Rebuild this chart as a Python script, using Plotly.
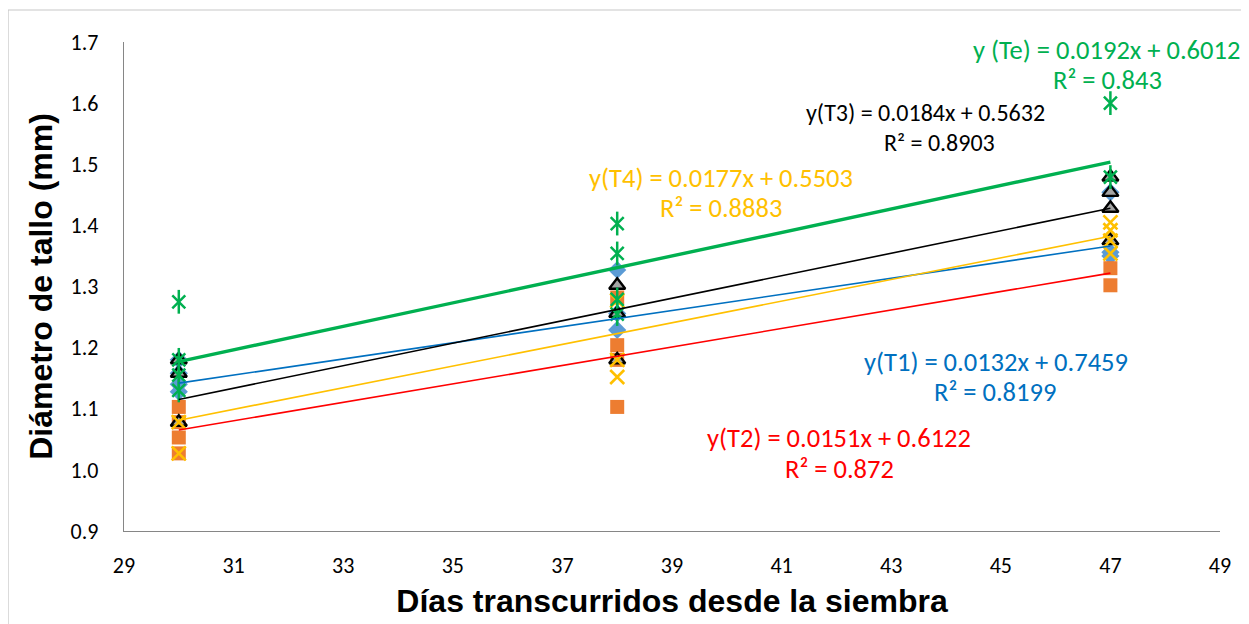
import plotly.graph_objects as go

# ---- data ----
t1_x = [30, 30, 30, 30, 38, 38, 38, 47, 47, 47]
t1_y = [1.180, 1.158, 1.140, 1.128, 1.327, 1.256, 1.229, 1.454, 1.356, 1.350]

t2_x = [30, 30, 30, 30, 38, 38, 38, 38, 47, 47]
t2_y = [1.103, 1.078, 1.053, 1.027, 1.282, 1.204, 1.180, 1.103, 1.330, 1.302]

t3_x = [30, 30, 30, 38, 38, 38, 47, 47, 47, 47]
t3_y = [1.180, 1.158, 1.078, 1.302, 1.256, 1.180, 1.479, 1.454, 1.428, 1.375]

t4_x = [30, 30, 38, 38, 38, 47, 47, 47, 47]
t4_y = [1.078, 1.027, 1.277, 1.180, 1.152, 1.405, 1.392, 1.375, 1.354]

te_x = [30, 30, 30, 30, 38, 38, 38, 38, 47, 47]
te_y = [1.275, 1.180, 1.155, 1.130, 1.403, 1.354, 1.279, 1.255, 1.600, 1.479]

# trendline coefficients (as printed on the chart)
names = ["T1", "T2", "T3", "T4", "Te"]
slopes = [0.0132, 0.0151, 0.0184, 0.0177, 0.0192]
intercepts = [0.7459, 0.6122, 0.5632, 0.5503, 0.6012]
r2 = ["0.8199", "0.872", "0.8903", "0.8883", "0.843"]
x_span = [30, 47]

x_ticks = list(range(29, 50, 2))
y_ticks = [0.9, 1.0, 1.1, 1.2, 1.3, 1.4, 1.5, 1.6, 1.7]
y_tick_text = ["0.9", "1.0", "1.1", "1.2", "1.3", "1.4", "1.5", "1.6", "1.7"]

# ---- styles ----
line_col = {"T1": "#0070C0", "T2": "#FF0000", "T3": "#000000", "T4": "#FFC000", "Te": "#00B050"}
line_w = {"T1": 1.6, "T2": 1.6, "T3": 1.6, "T4": 1.6, "Te": 3.4}
lab_size = {"T1": 26.5, "T2": 26.5, "T3": 24, "T4": 26.5, "Te": 26.5}

fig = go.Figure()

# markers (drawn in series order so later series sit on top)
fig.add_trace(go.Scatter(x=t1_x, y=t1_y, mode="markers", name="T1",
    marker=dict(symbol="diamond", size=14, color="#5B9BD5", line=dict(width=0))))
fig.add_trace(go.Scatter(x=t2_x, y=t2_y, mode="markers", name="T2",
    marker=dict(symbol="square", size=14, color="#ED7D31", line=dict(width=0))))
fig.add_trace(go.Scatter(x=t3_x, y=t3_y, mode="markers", name="T3",
    marker=dict(symbol="triangle-up", size=14, color="#A5A5A5", line=dict(width=2.4, color="#000000"))))
fig.add_trace(go.Scatter(x=t4_x, y=t4_y, mode="markers", name="T4",
    marker=dict(symbol="x-thin-open", size=14, color="#FFC000", line=dict(width=2.6, color="#FFC000"))))
fig.add_trace(go.Scatter(x=te_x, y=te_y, mode="markers", name="Te",
    marker=dict(symbol="x-thin-open", size=13, color="#00B050", line=dict(width=2.5, color="#00B050"))))
fig.add_trace(go.Scatter(x=te_x, y=te_y, mode="markers", name="Te2", showlegend=False,
    marker=dict(symbol="line-ns-open", size=17, color="#00B050", line=dict(width=2.5, color="#00B050"))))

# trendlines
for n, m, b in zip(names, slopes, intercepts):
    fig.add_trace(go.Scatter(x=x_span, y=[m * xv + b for xv in x_span], mode="lines",
        line=dict(color=line_col[n], width=line_w[n]), showlegend=False, hoverinfo="skip"))

# equation labels
lab_font = "Carlito, Lato, Calibri, sans-serif"
eq_pos = {
    "Te": (46.92, 1.687, 46.94, 1.638),
    "T3": (43.63, 1.585, 43.89, 1.536),
    "T4": (39.90, 1.477, 39.90, 1.428),
    "T1": (44.91, 1.176, 44.89, 1.127),
    "T2": (42.04, 1.052, 42.06, 1.001),
}
eq_label = {"Te": "y (Te)", "T3": "y(T3)", "T4": "y(T4)", "T1": "y(T1)", "T2": "y(T2)"}
for n, m, b, r in zip(names, slopes, intercepts, r2):
    ex, ey, rx, ry = eq_pos[n]
    fig.add_annotation(x=ex, y=ey, xref="x", yref="y", showarrow=False,
        text=f"{eq_label[n]} = {m}x + {b}", font=dict(family=lab_font, size=lab_size[n], color=line_col[n]))
    fig.add_annotation(x=rx, y=ry, xref="x", yref="y", showarrow=False,
        text=f"R² = {r}", font=dict(family=lab_font, size=lab_size[n], color=line_col[n]))

# outer chart border
fig.add_shape(type="rect", xref="paper", yref="paper", x0=-0.1058, x1=1.0246, y0=-0.25, y1=1.0654,
    line=dict(color="#C8C8C8", width=1.2), fillcolor="rgba(0,0,0,0)", layer="below")

fig.update_layout(
    width=1241, height=616,
    margin=dict(l=116, r=29, t=34, b=93),
    paper_bgcolor="white", plot_bgcolor="white",
    showlegend=False,
    font=dict(family=lab_font, size=22, color="#000000"),
    xaxis=dict(range=[29, 49], tickvals=x_ticks, showgrid=False, zeroline=False,
        showline=True, linecolor="#868686", linewidth=1.3, ticks="",
        tickfont=dict(family=lab_font, size=22), ticklabelstandoff=14,
        title=dict(text="<b>Días transcurridos desde la siembra</b>",
            font=dict(family="Liberation Sans Narrow, Arial Narrow, Arial", size=32), standoff=12)),
    yaxis=dict(range=[0.9, 1.7], tickvals=y_ticks, ticktext=y_tick_text, showgrid=False, zeroline=False,
        showline=True, linecolor="#868686", linewidth=1.3, ticks="",
        tickfont=dict(family=lab_font, size=22), ticklabelstandoff=20,
        title=dict(text="<b>Diámetro de tallo (mm)</b>",
            font=dict(family="Liberation Sans, Arial", size=32), standoff=8)),
)

fig.write_html("out.html")
